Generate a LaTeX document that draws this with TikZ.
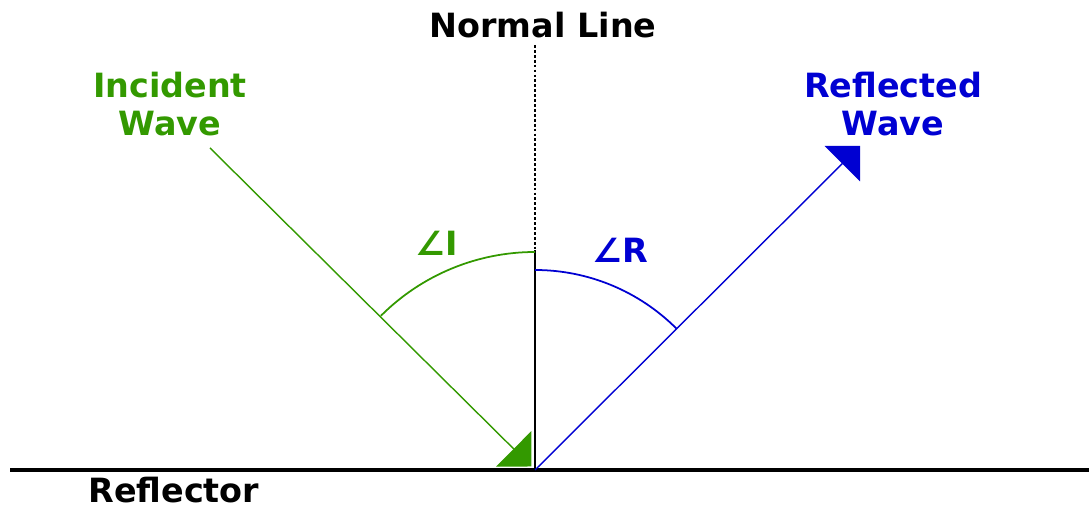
\documentclass[tikz,border=0pt]{standalone}
\usepackage{fontspec}
\setmainfont{DejaVu Sans}
\usepackage{xcolor}
\usepackage{tikz}
\usetikzlibrary{arrows.meta, positioning, calc}
\definecolor{wavegreen}{RGB}{51, 153, 0}
\definecolor{waveblue}{RGB}{0, 0, 210}

\begin{document}
\begin{tikzpicture}[x=0.02cm, y=0.02cm,
        label/.style={font=\bfseries\fontsize{19}{22}\selectfont, align=center, inner sep=0pt},
        ray/.style={line width=0.8pt, -{Triangle[length=0.5cm, width=1cm]}}]
        \useasboundingbox (0,0) rectangle (1089,509);
        
        % Points
        \coordinate (O) at (535,39);
        \coordinate (inc) at (210,361);
        \coordinate (refl) at (860,363);
        \coordinate (ntop) at (535,464);
        \coordinate (nmid) at (535,259);
        
        % Reflector
        \draw[line width=2.4pt] (10,39) coordinate (left) -- (1089,39) coordinate (right);
        \node[label, anchor=west] (reflector) at (88,19) {Reflector};
        
        % Normal line
        \draw[line width=1.1pt, dash pattern=on 1.6pt off 1.2pt] (ntop) -- (nmid);
        \draw[line width=1.1pt] (nmid) -- (O);
        \node[label] (normal) at (543,484) {Normal Line};
        
        % Incident wave
        \draw[ray, wavegreen, shorten >=0.1cm] (inc) -- (O);
        \node[label, wavegreen] (incident) at (170,405) {Incident\\Wave};
        
        % Reflected wave
        \draw[ray, waveblue] (O) -- (refl);
        \node[label, waveblue] (reflected) at (893,405) {Reflected\\Wave};
        
        % Angles
        \draw[wavegreen, line width=1pt] (O) ++(135:218) arc[start angle=135, end angle=90, radius=218];
        \node[label, wavegreen] (angI) at (437,266) {∠I};
        \draw[waveblue, line width=1pt] (O) ++(90:200) arc[start angle=90, end angle=45, radius=200];
        \node[label, waveblue] (angR) at (620,259) {∠R};
    \end{tikzpicture}
\end{document}
